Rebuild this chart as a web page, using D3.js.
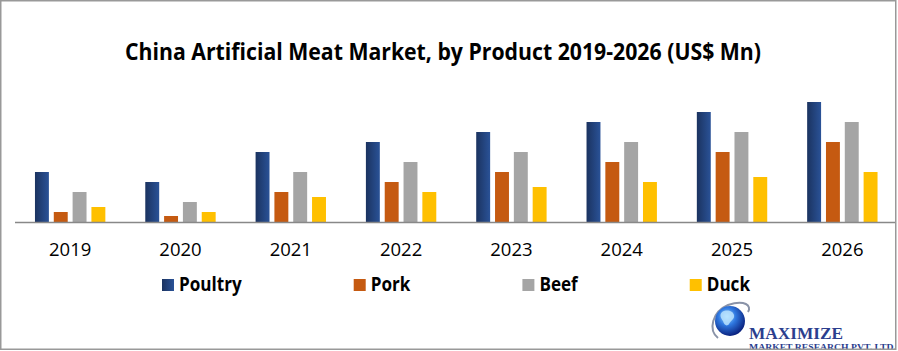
<!DOCTYPE html>
<meta charset="utf-8">
<script src="https://cdn.jsdelivr.net/npm/d3@7"></script>
<style>
  body { margin: 0; background: #fff; }
</style>
<div id="my_dataviz"></div>
<script>

// data
var years   = ["2019", "2020", "2021", "2022", "2023", "2024", "2025", "2026"];
var poultry = [5, 4, 7, 8, 9, 10, 11, 12];
var pork    = [1, 0.6, 3, 4, 5, 6, 7, 8];
var beef    = [3, 2, 5, 6, 7, 8, 9, 10];
var duck    = [1.5, 1, 2.5, 3, 3.5, 4, 4.5, 5];
var seriesNames = ["Poultry", "Pork", "Beef", "Duck"];

var seriesValues = [poultry, pork, beef, duck];
var colors = ["url(#poultryGrad)", "#c55a11", "#a5a5a5", "#ffc000"];

var width = 898, height = 351;

var svg = d3.select("#my_dataviz")
  .append("svg")
    .attr("width", width)
    .attr("height", height)
    .style("display", "block");

var defs = svg.append("defs");
var g1 = defs.append("linearGradient").attr("id", "poultryGrad")
  .attr("x1", "0%").attr("x2", "100%").attr("y1", "0%").attr("y2", "0%");
g1.append("stop").attr("offset", "0%").attr("stop-color", "#1b3360");
g1.append("stop").attr("offset", "100%").attr("stop-color", "#2a5297");

var gl = defs.append("radialGradient").attr("id", "globeGrad")
  .attr("cx", "40%").attr("cy", "35%").attr("r", "65%");
gl.append("stop").attr("offset", "0%").attr("stop-color", "#9fdcff");
gl.append("stop").attr("offset", "45%").attr("stop-color", "#2f78e0");
gl.append("stop").attr("offset", "100%").attr("stop-color", "#0b2380");

// title
svg.append("text")
  .attr("x", 443)
  .attr("y", 60)
  .attr("text-anchor", "middle")
  .attr("textLength", 636)
  .attr("lengthAdjust", "spacingAndGlyphs")
  .style("font-family", "'Liberation Sans Narrow', 'Open Sans', sans-serif")
  .style("font-weight", "bold")
  .style("font-size", "23px")
  .style("fill", "#000")
  .text("China Artificial Meat Market, by Product 2019-2026 (US$ Mn)");

// scales
var baseY = 222;
var x0 = d3.scaleBand()
  .domain(years)
  .range([15, 897.5])
  .paddingInner(0.362)
  .paddingOuter(0.181);

var x1 = d3.scaleBand()
  .domain(seriesNames)
  .range([0, x0.bandwidth()])
  .paddingInner(0.26)
  .paddingOuter(0);

var y = d3.scaleLinear()
  .domain([0, 13])
  .range([baseY, baseY - 130]);

// bars
var groups = svg.append("g").selectAll("g")
  .data(years)
  .enter().append("g")
    .attr("transform", function(d) { return "translate(" + x0(d) + ",0)"; });

groups.selectAll("rect")
  .data(function(d, i) {
    return seriesNames.map(function(s, k) { return {key: s, k: k, value: seriesValues[k][i]}; });
  })
  .enter().append("rect")
    .attr("x", function(d) { return x1(d.key); })
    .attr("y", function(d) { return y(d.value); })
    .attr("width", x1.bandwidth())
    .attr("height", function(d) { return y(0) - y(d.value); })
    .attr("fill", function(d) { return colors[d.k]; });

// x axis
var xAxis = svg.append("g")
  .attr("transform", "translate(0," + baseY + ")")
  .call(d3.axisBottom(x0).tickSize(0).tickPadding(21));
xAxis.select(".domain").remove();
xAxis.selectAll("text")
  .style("font-family", "'Open Sans', sans-serif")
  .style("font-size", "18.5px")
  .style("fill", "#000");

svg.append("line")
  .attr("x1", 15).attr("x2", 895)
  .attr("y1", baseY + 0.5).attr("y2", baseY + 0.5)
  .attr("stroke", "#888")
  .attr("stroke-width", 1.5);

// legend
var legend = svg.append("g");
var lx = 162;
seriesNames.forEach(function(name, k) {
  legend.append("rect")
    .attr("x", lx).attr("y", 279)
    .attr("width", 12).attr("height", 12)
    .attr("fill", colors[k]);
  var t = legend.append("text")
    .attr("x", lx + 17)
    .attr("y", 291)
    .style("font-family", "'Open Sans', sans-serif")
    .style("font-weight", "bold")
    .style("font-size", "19px")
    .style("fill", "#000")
    .text(name);
  var w = t.node().getComputedTextLength() * 0.9;
  t.attr("textLength", w).attr("lengthAdjust", "spacingAndGlyphs");
  lx = lx + 17 + w + 112;
});

// logo
var logo = svg.append("g");
logo.append("path")
  .attr("d", "M718,338 C708,330 712,312 728,305 C745,299 752,306 748,312")
  .attr("fill", "none")
  .attr("stroke", "#8a93a8")
  .attr("stroke-width", 2);
logo.append("circle")
  .attr("cx", 730).attr("cy", 321).attr("r", 15)
  .attr("fill", "url(#globeGrad)");
logo.append("path")
  .attr("d", "M722,312 C727,309 733,311 734,315 C735,319 731,320 729,324 C727,327 724,325 723,321 C721,318 719,315 722,312 Z")
  .attr("fill", "#bfe6ff")
  .attr("opacity", 0.8);
logo.append("text")
  .attr("x", 749).attr("y", 338.5)
  .attr("textLength", 94)
  .attr("lengthAdjust", "spacingAndGlyphs")
  .style("font-family", "'Liberation Serif', serif")
  .style("font-weight", "bold")
  .style("font-size", "17px")
  .style("fill", "#2b3e8e")
  .text("MAXIMIZE");
logo.append("text")
  .attr("x", 749).attr("y", 349.5)
  .attr("textLength", 147)
  .attr("lengthAdjust", "spacingAndGlyphs")
  .style("font-family", "'Liberation Serif', serif")
  .style("font-weight", "bold")
  .style("font-size", "8.5px")
  .style("fill", "#2b3e8e")
  .text("MARKET RESEARCH PVT. LTD.");

// outer frame
svg.append("rect")
  .attr("x", 0.75).attr("y", 0.75)
  .attr("width", 895).attr("height", 348.5)
  .attr("fill", "none")
  .attr("stroke", "#999")
  .attr("stroke-width", 1.5);

</script>
